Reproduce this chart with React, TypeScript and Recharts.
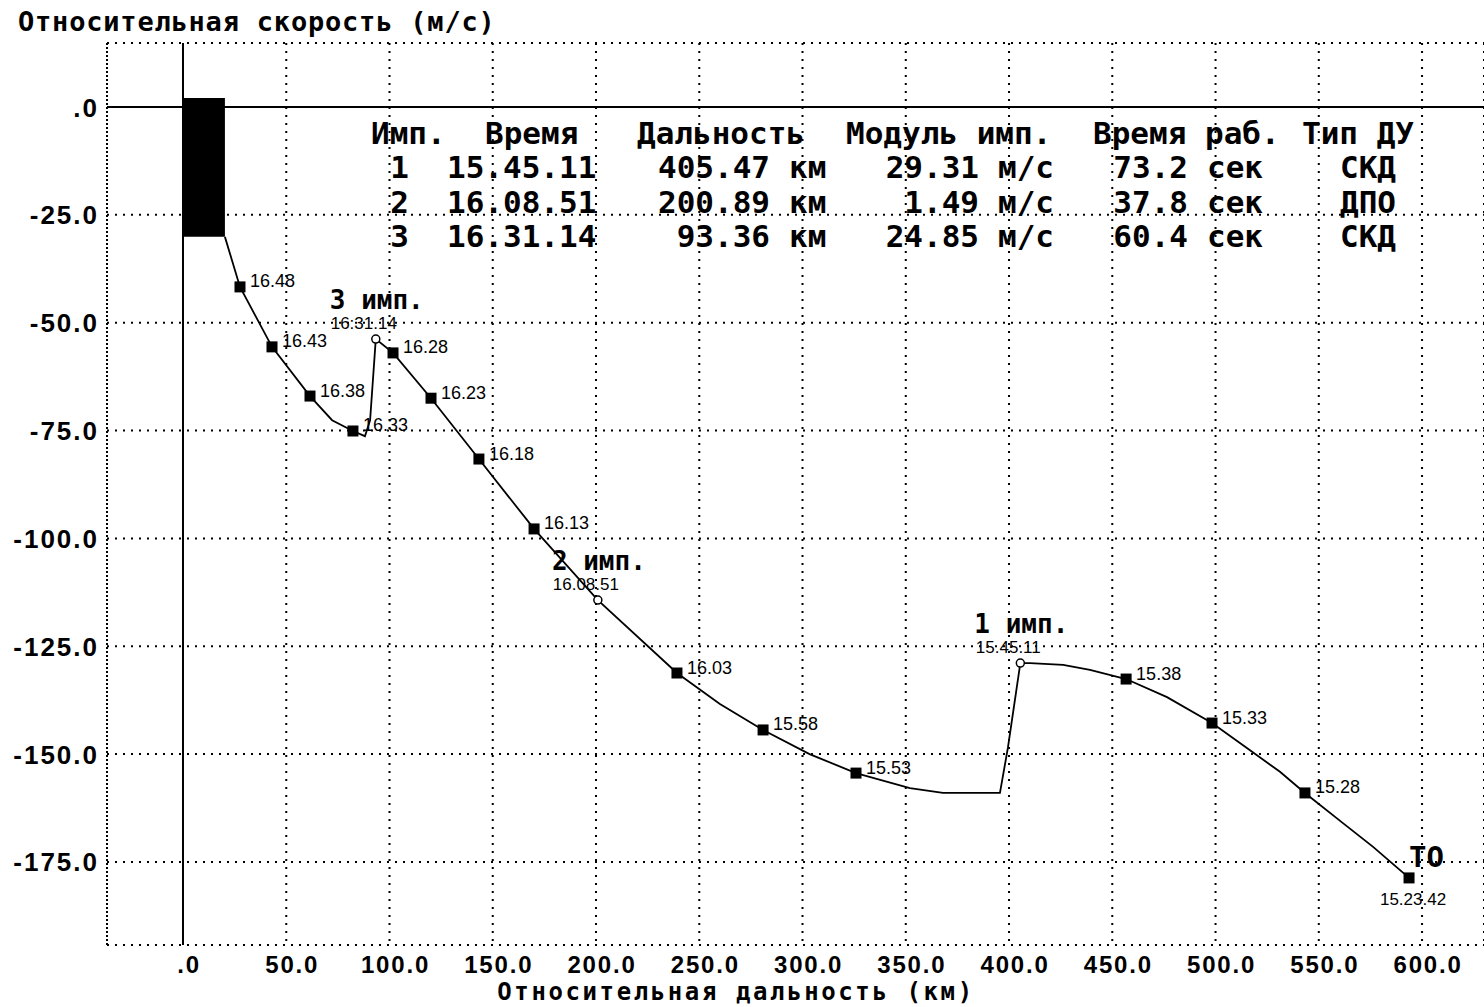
import React from 'react';
import {
  ComposedChart,
  Line,
  Scatter,
  XAxis,
  YAxis,
  CartesianGrid,
  ReferenceLine,
  ReferenceArea,
} from 'recharts';

// ---------- DATA ----------
const xTicks = [0, 50, 100, 150, 200, 250, 300, 350, 400, 450, 500, 550, 600];
const xTickLabels = ['.0', '50.0', '100.0', '150.0', '200.0', '250.0', '300.0', '350.0', '400.0', '450.0', '500.0', '550.0', '600.0'];
const yTicks = [0, -25, -50, -75, -100, -125, -150, -175];
const yTickLabels = ['.0', '-25.0', '-50.0', '-75.0', '-100.0', '-125.0', '-150.0', '-175.0'];

const xDomain = [-36.8, 630];
const yDomain = [-194.25, 14.84];

// trajectory (relative range km, relative velocity m/s)
const trackX = [20.3, 27.6, 43.1, 61.5, 72.2, 82.3, 88.1, 90.6, 93.36, 101.7, 120.1, 143.3, 170.0, 200.89, 239.2, 260.0, 280.9, 303.4, 325.9, 352.0, 368.0, 395.6, 399.5, 405.47, 410.2, 426.2, 439.2, 456.7, 476.5, 498.3, 516.7, 531.2, 543.3, 561.7, 576.3, 593.7];
const trackY = [-30.1, -41.7, -55.6, -67.0, -72.6, -75.1, -76.3, -72.6, -53.8, -57.0, -67.5, -81.6, -97.8, -114.3, -131.2, -138.4, -144.4, -150.0, -154.4, -157.9, -159.0, -159.0, -148.4, -128.9, -128.9, -129.3, -130.5, -132.6, -136.8, -142.8, -149.1, -154.1, -159.0, -166.0, -171.5, -178.7];

// time markers
const markerTimes = ['16.48', '16.43', '16.38', '16.33', '16.28', '16.23', '16.18', '16.13', '16.03', '15.58', '15.53', '15.38', '15.33', '15.28'];
const markerX = [27.6, 43.1, 61.5, 82.3, 101.7, 120.1, 143.3, 170.0, 239.2, 280.9, 325.9, 456.7, 498.3, 543.3];
const markerY = [-41.7, -55.6, -67.0, -75.1, -57.0, -67.5, -81.6, -97.8, -131.2, -144.4, -154.4, -132.6, -142.8, -159.0];

// impulses
const impulseNames = ['1 имп.', '2 имп.', '3 имп.'];
const impulseTimeLabels = ['15.45.11', '16.08.51', '16:31.14'];
const impulseX = [405.47, 200.89, 93.36];
const impulseY = [-128.9, -114.3, -53.8];

// end point
const endName = ['TO'];
const endTime = ['15.23.42'];
const endX = [593.7];
const endY = [-178.7];

// burn bar
const barX = [0, 20.3];
const barY = [-30.1, 2.1];

// table
const tableHeaders = ['Имп.', 'Время', 'Дальность', 'Модуль имп.', 'Время раб.', 'Тип ДУ'];
const impNums = ['1', '2', '3'];
const impTimes = ['15.45.11', '16.08.51', '16.31.14'];
const impDist = ['405.47', '200.89', '93.36'];
const impDv = ['29.31', '1.49', '24.85'];
const impBurn = ['73.2', '37.8', '60.4'];
const impEngine = ['СКД', 'ДПО', 'СКД'];

const yTitle = 'Относительная скорость (м/с)';
const xTitle = 'Относительная дальность (км)';

// ---------- derived ----------
const trackData = trackX.map((x, i) => ({ x, y: trackY[i] }));
const markerData = markerX.map((x, i) => ({ x, y: markerY[i], label: markerTimes[i] }));
const impulseData = impulseX.map((x, i) => ({ x, y: impulseY[i], name: impulseNames[i], time: impulseTimeLabels[i] }));
const endData = endX.map((x, i) => ({ x, y: endY[i], name: endName[i], time: endTime[i] }));

// ---------- layout ----------
const W = 1484;
const H = 1007;
const TOP = 43;
const LEFT = 107;
const BOTTOM_H = 62;
const PLOT_BOTTOM = H - BOTTOM_H;

const TICK_FONT = "'Liberation Sans',Arial,sans-serif";
const MONO = "'DejaVu Sans Mono','Liberation Mono',monospace";
const SMALL = "'Liberation Sans',Arial,sans-serif";
const DOTS = '2 6';

const XTick = (props: any) => {
  const { x, payload } = props;
  const idx = xTicks.indexOf(payload.value);
  return (
    <text x={x + 6} y={PLOT_BOTTOM + 28} textAnchor="middle" fontFamily={TICK_FONT} fontWeight="bold" fontSize={24} letterSpacing={1.8} fill="#000">
      {idx >= 0 ? xTickLabels[idx] : ''}
    </text>
  );
};

const YTick = (props: any) => {
  const { y, payload } = props;
  const idx = yTicks.indexOf(payload.value);
  return (
    <text x={99} y={y + 9.5} textAnchor="end" fontFamily={TICK_FONT} fontWeight="bold" fontSize={26} letterSpacing={2} fill="#000">
      {idx >= 0 ? yTickLabels[idx] : ''}
    </text>
  );
};

const MarkerShape = (props: any) => {
  const { cx, cy, payload } = props;
  return (
    <g>
      <rect x={cx - 5.5} y={cy - 5.5} width={11} height={11} fill="#000" />
      <text x={cx + 10} y={cy + 0.5} fontFamily={SMALL} fontSize={18} fill="#000">
        {payload.label}
      </text>
    </g>
  );
};

const ImpulseShape = (props: any) => {
  const { cx, cy, payload } = props;
  return (
    <g>
      <circle cx={cx} cy={cy} r={4} fill="#fff" stroke="#000" strokeWidth={1.5} />
      <text x={cx - 12} y={cy - 10} textAnchor="middle" fontFamily={SMALL} fontSize={17} fill="#000">
        {payload.time}
      </text>
      <text x={cx + 1} y={cy - 30} textAnchor="middle" fontFamily={MONO} fontWeight="bold" fontSize={26} fill="#000">
        {payload.name}
      </text>
    </g>
  );
};

const EndShape = (props: any) => {
  const { cx, cy, payload } = props;
  return (
    <g>
      <rect x={cx - 5.5} y={cy - 5.5} width={11} height={11} fill="#000" />
      <text x={cx + 4} y={cy + 27} textAnchor="middle" fontFamily={SMALL} fontSize={17} fill="#000">
        {payload.time}
      </text>
      <text x={cx} y={cy - 11} fontFamily={MONO} fontWeight="bold" fontSize={29} fill="#000">
        {payload.name}
      </text>
    </g>
  );
};

const TABLE_X = 371;
const CELL = 19;
const col = (c: number) => TABLE_X + c * CELL;
const headerCols = [0, 6, 14, 25, 38, 49];
const HEADER_Y = 144;
const ROW_Y0 = 178;
const ROW_DY = 34.5;

const Overlay = () => (
  <svg width={W} height={H} style={{ position: 'absolute', left: 0, top: 0, pointerEvents: 'none' }}>
    <text x={18} y={31} fontFamily={MONO} fontWeight="bold" fontSize={27} letterSpacing={0.8} fill="#000">
      {yTitle}
    </text>
    <text x={736} y={1000} textAnchor="middle" fontFamily={MONO} fontWeight="bold" fontSize={24} letterSpacing={2.6} fill="#000">
      {xTitle}
    </text>
    {tableHeaders.map((h, i) => (
      <text key={'h' + i} x={col(headerCols[i])} y={HEADER_Y} fontFamily={MONO} fontWeight="bold" fontSize={31} fill="#000" xmlSpace="preserve">
        {h}
      </text>
    ))}
    {impNums.map((n, i) => {
      const y = ROW_Y0 + i * ROW_DY;
      const common = { fontFamily: MONO, fontSize: 31, fontWeight: 'bold', fill: '#000' } as any;
      return (
        <g key={'r' + i}>
          <text x={col(2)} y={y} textAnchor="end" {...common}>{n}</text>
          <text x={col(4)} y={y} {...common}>{impTimes[i]}</text>
          <text x={col(21)} y={y} textAnchor="end" {...common}>{impDist[i]}</text>
          <text x={col(22)} y={y} {...common}>км</text>
          <text x={col(32)} y={y} textAnchor="end" {...common}>{impDv[i]}</text>
          <text x={col(33)} y={y} {...common}>м/с</text>
          <text x={col(43)} y={y} textAnchor="end" {...common}>{impBurn[i]}</text>
          <text x={col(44)} y={y} {...common}>сек</text>
          <text x={col(51)} y={y} {...common}>{impEngine[i]}</text>
        </g>
      );
    })}
  </svg>
);

export default function App() {
  return (
    <div style={{ position: 'absolute', left: 0, top: 0, width: W, height: H, background: '#fff' }}>
      <ComposedChart width={W} height={H} margin={{ top: TOP, right: 0, bottom: 0, left: 0 }}>
        <CartesianGrid stroke="#000" strokeWidth={2} strokeDasharray={DOTS} vertical horizontal />
        <XAxis
          type="number"
          dataKey="x"
          domain={xDomain}
          ticks={xTicks}
          allowDataOverflow
          axisLine={false}
          tickLine={false}
          height={BOTTOM_H}
          tick={<XTick />}
          interval={0}
        />
        <YAxis
          type="number"
          dataKey="y"
          domain={yDomain}
          ticks={yTicks}
          allowDataOverflow
          axisLine={false}
          tickLine={false}
          width={LEFT}
          tick={<YTick />}
          interval={0}
        />
        <ReferenceLine x={xDomain[0]} stroke="#000" strokeWidth={2} strokeDasharray={DOTS} ifOverflow="visible" />
        <ReferenceLine y={yDomain[1]} stroke="#000" strokeWidth={2} strokeDasharray={DOTS} ifOverflow="visible" />
        <ReferenceLine y={yDomain[0]} stroke="#000" strokeWidth={2} strokeDasharray={DOTS} ifOverflow="visible" />
        <ReferenceLine y={0} stroke="#000" strokeWidth={2} />
        <ReferenceLine x={0} stroke="#000" strokeWidth={2} />
        <ReferenceArea x1={barX[0]} x2={barX[1]} y1={barY[0]} y2={barY[1]} fill="#000" fillOpacity={1} stroke="none" />
        <Line
          data={trackData}
          dataKey="y"
          type="linear"
          stroke="#000"
          strokeWidth={1.8}
          dot={false}
          activeDot={false}
          isAnimationActive={false}
        />
        <Scatter data={markerData} dataKey="y" shape={<MarkerShape />} isAnimationActive={false} />
        <Scatter data={impulseData} dataKey="y" shape={<ImpulseShape />} isAnimationActive={false} />
        <Scatter data={endData} dataKey="y" shape={<EndShape />} isAnimationActive={false} />
      </ComposedChart>
      <Overlay />
    </div>
  );
}
